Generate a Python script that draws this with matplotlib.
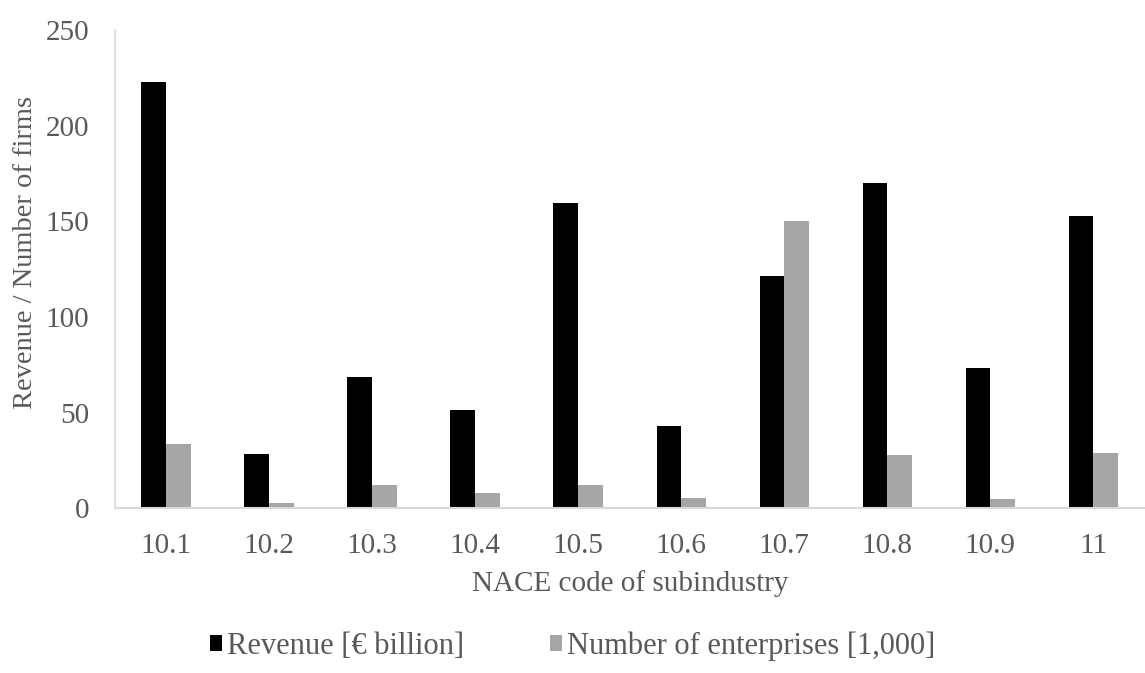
import numpy as np
import matplotlib
matplotlib.use('Agg')
import matplotlib.pyplot as plt

codes = ['10.1', '10.2', '10.3', '10.4', '10.5', '10.6', '10.7', '10.8', '10.9', '11']
revenue = [222.8, 28.5, 68.4, 51.5, 159.7, 43.1, 121.3, 169.9, 73.4, 152.6]
enterprises = [33.7, 2.8, 12.0, 7.9, 12.2, 5.1, 150.4, 27.9, 4.7, 28.7]

plt.rcParams['font.family'] = ['Liberation Serif', 'DejaVu Serif']
txt = '#595959'
fs = 21

fig = plt.figure(figsize=(11.45, 6.73), dpi=100)
ax = fig.add_axes([0.1, 0.245, 0.9, 0.71])

x = np.arange(len(codes))
w = 0.24
ax.bar(x - w / 2, revenue, w, color='black', label='Revenue [€ billion]')
ax.bar(x + w / 2, enterprises, w, color='#a6a6a6', label='Number of enterprises [1,000]')

ax.set_xlim(-0.5, len(codes) - 0.5)
ax.set_ylim(0, 250)
ax.set_yticks(range(0, 251, 50))
ax.set_xticks(x)
ax.set_xticklabels(codes)
ax.tick_params(axis='both', length=0, labelsize=fs, colors=txt)
ax.tick_params(axis='y', pad=18)
ax.tick_params(axis='x', pad=18)

for s in ['top', 'right']:
    ax.spines[s].set_visible(False)
ax.spines['left'].set_color('#d9d9d9')
ax.spines['bottom'].set_color('#d9d9d9')
ax.spines['left'].set_linewidth(1.2)
ax.spines['bottom'].set_linewidth(1.5)

ax.set_xlabel('NACE code of subindustry', fontsize=fs, color=txt, labelpad=8)
ax.set_ylabel('Revenue / Number of firms', fontsize=20.5, color=txt)
ax.yaxis.set_label_coords(-0.074, 0.535)

leg = fig.legend(loc='center', bbox_to_anchor=(0.5, 0.04), ncol=2, frameon=False,
                 fontsize=22, handlelength=0.4, handleheight=0.4, handletextpad=0.17,
                 columnspacing=2.8)
for t in leg.get_texts():
    t.set_color(txt)

fig.savefig('out.png', dpi=100)
